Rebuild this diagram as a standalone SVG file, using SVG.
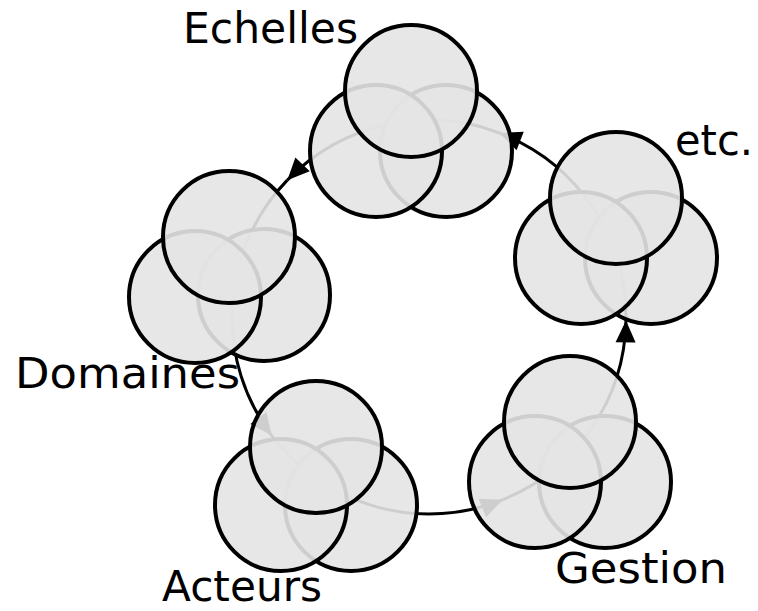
<svg xmlns="http://www.w3.org/2000/svg" width="758" height="611" viewBox="0 0 758 611">
  <style>
    .c { fill: #e4e4e4; fill-opacity: 0.9; stroke: #000; stroke-width: 4; }
    .ring { fill: none; stroke: #000; stroke-width: 3; marker-end: url(#arr); }
    .lbl { font-family: "DejaVu Sans", "Liberation Sans", sans-serif; font-size: 42px; fill: #000; }
  </style>
  <defs>
    <marker id="arr" markerUnits="userSpaceOnUse" viewBox="-24 -12 26 24" refX="0" refY="0" markerWidth="26" markerHeight="24" orient="auto">
      <path d="M0,0 L-22,-10 L-22,10 Z" fill="#000"/>
    </marker>
  </defs>
  <rect width="758" height="611" fill="#fff"/>

  <g id="connectors">
    <path class="ring" d="M502.80,499.66 A197,197 0 0 0 625.97,320.44"/>
    <path class="ring" d="M625.97,320.44 A197,197 0 0 0 499.60,133.08"/>
    <path class="ring" d="M499.60,133.08 A197,197 0 0 0 287.29,180.15"/>
    <path class="ring" d="M287.29,180.15 A197,197 0 0 0 271.67,435.56"/>
    <path class="ring" d="M271.67,435.56 A197,197 0 0 0 502.80,499.66"/>
  </g>

  <g id="echelles">
    <circle class="c" cx="446" cy="151" r="66"/>
    <circle class="c" cx="376" cy="151" r="66"/>
    <circle class="c" cx="411" cy="91" r="66"/>
    <text class="lbl" x="183" y="43" textLength="175" lengthAdjust="spacingAndGlyphs">Echelles</text>
  </g>

  <g id="etc">
    <circle class="c" cx="651" cy="258" r="66"/>
    <circle class="c" cx="581" cy="258" r="66"/>
    <circle class="c" cx="616" cy="198" r="66"/>
    <text class="lbl" x="675" y="155" textLength="78" lengthAdjust="spacingAndGlyphs">etc.</text>
  </g>

  <g id="gestion">
    <circle class="c" cx="605" cy="482" r="66"/>
    <circle class="c" cx="535" cy="482" r="66"/>
    <circle class="c" cx="570" cy="422" r="66"/>
    <text class="lbl" x="555" y="583" textLength="172" lengthAdjust="spacingAndGlyphs">Gestion</text>
  </g>

  <g id="acteurs">
    <circle class="c" cx="351" cy="505" r="66"/>
    <circle class="c" cx="281" cy="505" r="66"/>
    <circle class="c" cx="316" cy="447" r="66"/>
    <text class="lbl" x="162" y="601" textLength="160" lengthAdjust="spacingAndGlyphs">Acteurs</text>
  </g>

  <g id="domaines">
    <circle class="c" cx="264" cy="295" r="66"/>
    <circle class="c" cx="195" cy="297" r="66"/>
    <circle class="c" cx="229" cy="237" r="66"/>
    <text class="lbl" x="15" y="388" textLength="225" lengthAdjust="spacingAndGlyphs">Domaines</text>
  </g>
</svg>
